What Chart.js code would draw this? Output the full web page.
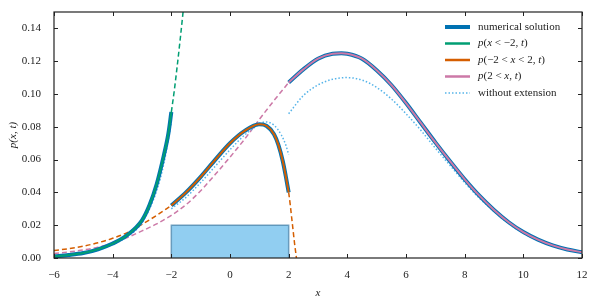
<!DOCTYPE html>
<html>
<head>
<meta charset="utf-8">
<script src="https://cdn.jsdelivr.net/npm/chart.js@4"></script>
<style>
  html, body { margin: 0; padding: 0; background: #fff; }
</style>
</head>
<body>
<canvas id="chart" width="600" height="300"></canvas>
<script>
// p(x < -2, t) and its dashed extension
const xLeft = [-6, -5.5, -5, -4.5, -4, -3.5, -3, -2.75, -2.5, -2.25, -2.1, -2];
const pLeft = [0.001, 0.0018, 0.003, 0.0053, 0.0088, 0.014, 0.023, 0.032, 0.045, 0.063, 0.076, 0.089];
const xLeftExt = [-2, -1.9, -1.8, -1.7, -1.6, -1.5];
const pLeftExt = [0.089, 0.102, 0.117, 0.133, 0.150, 0.168];

// p(-2 < x < 2, t) and its dashed extensions
const xMid = [-2, -1.5, -1, -0.5, 0, 0.5, 1, 1.25, 1.5, 1.65, 1.8, 1.9, 2];
const pMid = [0.032, 0.040, 0.0495, 0.0600, 0.0700, 0.0775, 0.0815, 0.0805, 0.0755, 0.069, 0.059, 0.050, 0.040];
const xMidExtL = [-6, -5.5, -5, -4.5, -4, -3.5, -3, -2.5, -2];
const pMidExtL = [0.0045, 0.0057, 0.0072, 0.0093, 0.012, 0.0155, 0.0205, 0.026, 0.032];
const xMidExtR = [2, 2.05, 2.1, 2.15, 2.2, 2.25, 2.3];
const pMidExtR = [0.040, 0.033, 0.025, 0.017, 0.009, 0.002, -0.005];

// p(2 < x, t) and its dashed extension
const xRight = [2, 2.5, 3, 3.5, 3.8, 4, 4.5, 5, 5.5, 6, 6.5, 7, 7.5, 8, 8.5, 9, 9.5, 10, 10.5, 11, 11.5, 12];
const pRight = [0.107, 0.115, 0.1215, 0.1245, 0.1248, 0.1245, 0.1215, 0.1145, 0.1055, 0.0945, 0.0825, 0.0705, 0.059, 0.048, 0.038, 0.0293, 0.0218, 0.0158, 0.0112, 0.0077, 0.0052, 0.0035];
const xRightExt = [-6, -5.5, -5, -4.5, -4, -3.5, -3, -2.5, -2, -1.5, -1, -0.5, 0, 0.5, 1, 1.5, 2];
const pRightExt = [0.0028, 0.0037, 0.0049, 0.0066, 0.009, 0.0125, 0.0165, 0.0208, 0.026, 0.0325, 0.041, 0.051, 0.0615, 0.0725, 0.0845, 0.096, 0.107];

// without extension (three pieces)
const xNoExtL = [-6, -5, -4.5, -4, -3.5, -3, -2.5, -2.25, -2];
const pNoExtL = [0.001, 0.0027, 0.0048, 0.0082, 0.013, 0.0215, 0.041, 0.058, 0.083];
const xNoExtM = [-2, -1.5, -1, -0.5, 0, 0.5, 1, 1.2, 1.5, 1.75, 1.9, 2];
const pNoExtM = [0.030, 0.037, 0.046, 0.056, 0.066, 0.075, 0.0815, 0.083, 0.081, 0.075, 0.069, 0.063];
const xNoExtR = [2, 2.5, 3, 3.5, 4, 4.5, 5, 5.5, 6, 6.5, 7, 7.5, 8, 8.5, 9, 9.5, 10, 10.5, 11, 11.5, 12];
const pNoExtR = [0.088, 0.099, 0.1055, 0.109, 0.110, 0.1085, 0.104, 0.097, 0.088, 0.078, 0.067, 0.0565, 0.046, 0.0365, 0.0285, 0.021, 0.0152, 0.0108, 0.0074, 0.005, 0.0034];

// initial box
const rectX = [-2, -2, 2, 2];
const rectY = [0, 0.02, 0.02, 0];

const xTicks = [-6, -4, -2, 0, 2, 4, 6, 8, 10, 12];
const yTicks = [0, 0.02, 0.04, 0.06, 0.08, 0.10, 0.12, 0.14];

const BLUE = '#0072B2', GREEN = '#009E73', ORANGE = '#D55E00', PINK = '#CC79A7', SKY = '#56B4E9';
const FONT = "'Liberation Serif', 'DejaVu Serif', serif";

const pts = (xs, ys) => xs.map((x, i) => ({ x: x, y: ys[i] }));
const gap = x => ({ x: x, y: null });
const join = (...parts) => parts.reduce((acc, p, i) => i ? acc.concat([gap(p[0].x)], p) : p, []);

const line = (data, color, width, dash, order) => ({
  data: data,
  borderColor: color,
  borderWidth: width,
  borderDash: dash,
  pointRadius: 0,
  fill: false,
  cubicInterpolationMode: 'monotone',
  order: order
});

const legendItems = [
  { color: BLUE, width: 4, dash: [], text: [['numerical solution', false]] },
  { color: GREEN, width: 2.5, dash: [], text: [['p', true], ['(', false], ['x', true], [' < \u22122, ', false], ['t', true], [')', false]] },
  { color: ORANGE, width: 2.5, dash: [], text: [['p', true], ['(\u22122 < ', false], ['x', true], [' < 2, ', false], ['t', true], [')', false]] },
  { color: PINK, width: 2.5, dash: [], text: [['p', true], ['(2 < ', false], ['x', true], [', ', false], ['t', true], [')', false]] },
  { color: SKY, width: 1.5, dash: [1.5, 2], text: [['without extension', false]] }
];

const framePlugin = {
  id: 'frame',
  afterDraw(chart) {
    const ctx = chart.ctx;
    const a = chart.chartArea;
    const sx = chart.scales.x, sy = chart.scales.y;
    ctx.save();
    ctx.strokeStyle = '#222';
    ctx.lineWidth = 1.2;
    ctx.strokeRect(a.left, a.top, a.right - a.left, a.bottom - a.top);
    ctx.lineWidth = 1;
    ctx.beginPath();
    xTicks.forEach(v => {
      const px = Math.round(sx.getPixelForValue(v)) + 0.5;
      ctx.moveTo(px, a.bottom); ctx.lineTo(px, a.bottom - 4);
      ctx.moveTo(px, a.top); ctx.lineTo(px, a.top + 4);
    });
    yTicks.forEach(v => {
      const py = Math.round(sy.getPixelForValue(v)) + 0.5;
      ctx.moveTo(a.left, py); ctx.lineTo(a.left + 4, py);
      ctx.moveTo(a.right, py); ctx.lineTo(a.right - 4, py);
    });
    ctx.stroke();

    // legend
    const x0 = a.right - 137;
    let y = a.top + 15;
    ctx.textBaseline = 'middle';
    ctx.fillStyle = '#222';
    legendItems.forEach(item => {
      ctx.strokeStyle = item.color;
      ctx.lineWidth = item.width;
      ctx.setLineDash(item.dash);
      ctx.beginPath();
      ctx.moveTo(x0, y); ctx.lineTo(x0 + 25, y);
      ctx.stroke();
      ctx.setLineDash([]);
      let tx = x0 + 33;
      item.text.forEach(([s, it]) => {
        ctx.font = (it ? 'italic ' : '') + '11px ' + FONT;
        ctx.fillText(s, tx, y);
        tx += ctx.measureText(s).width;
      });
      y += 16.5;
    });
    ctx.restore();
  }
};

new Chart(document.getElementById('chart'), {
  type: 'line',
  data: {
    datasets: [
      Object.assign(line(pts(rectX, rectY), 'rgba(70,130,170,0.75)', 1.5, [], 20), {
        fill: 'origin', backgroundColor: 'rgba(86,180,233,0.65)', cubicInterpolationMode: 'default', tension: 0
      }),
      line(pts(xLeftExt, pLeftExt), GREEN, 1.5, [5, 3], 15),
      line(join(pts(xMidExtL, pMidExtL), pts(xMidExtR, pMidExtR)), ORANGE, 1.5, [5, 3], 15),
      line(pts(xRightExt, pRightExt), PINK, 1.5, [5, 3], 15),
      line(join(pts(xNoExtL, pNoExtL), pts(xNoExtM, pNoExtM), pts(xNoExtR, pNoExtR)), SKY, 1.5, [1.5, 2], 12),
      line(join(pts(xLeft, pLeft), pts(xMid, pMid), pts(xRight, pRight)), BLUE, 4, [], 10),
      line(pts(xLeft, pLeft), GREEN, 2, [], 1),
      line(pts(xMid, pMid), ORANGE, 2, [], 1),
      line(pts(xRight, pRight), PINK, 2, [], 1)
    ]
  },
  options: {
    responsive: false,
    animation: false,
    devicePixelRatio: 1,
    spanGaps: false,
    layout: { padding: { left: 0, right: 18, top: 12, bottom: 0 } },
    scales: {
      x: {
        type: 'linear',
        min: -6,
        max: 12,
        grid: { display: false },
        border: { display: false },
        afterBuildTicks: s => { s.ticks = xTicks.map(v => ({ value: v })); },
        afterFit: s => { s.height = 42; },
        ticks: {
          padding: 3,
          color: '#222',
          font: { family: FONT, size: 11 },
          maxRotation: 0,
          callback: v => String(v).replace('-', '\u2212')
        },
        title: {
          display: true,
          text: 'x',
          color: '#222',
          font: { family: FONT, size: 11, style: 'italic' },
          padding: { top: 10, bottom: 0 }
        }
      },
      y: {
        type: 'linear',
        min: 0,
        max: 0.15,
        grid: { display: false },
        border: { display: false },
        afterBuildTicks: s => { s.ticks = yTicks.map(v => ({ value: v })); },
        afterFit: s => { s.width = 54; },
        ticks: {
          padding: 5,
          color: '#222',
          font: { family: FONT, size: 11 },
          callback: v => v.toFixed(2)
        },
        title: {
          display: true,
          text: 'p(x, t)',
          color: '#222',
          font: { family: FONT, size: 11, style: 'italic' },
          padding: { top: 7, bottom: 0 }
        }
      }
    },
    plugins: {
      legend: { display: false },
      tooltip: { enabled: false }
    }
  },
  plugins: [framePlugin]
});
</script>
</body>
</html>
